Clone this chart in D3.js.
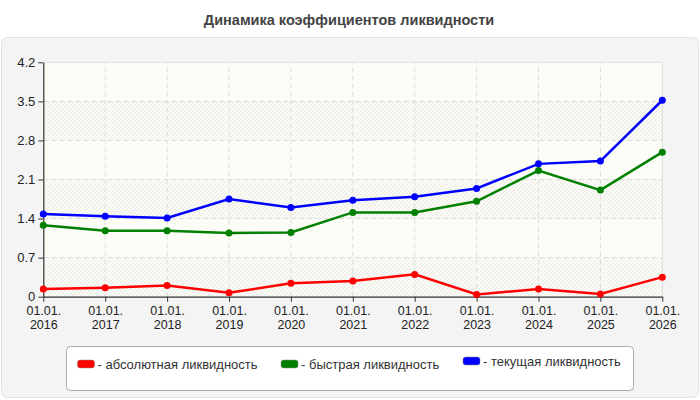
<!DOCTYPE html>
<html>
<head>
<meta charset="utf-8">
<script src="https://cdn.jsdelivr.net/npm/d3@7"></script>
<style>
  html, body { margin: 0; padding: 0; background: #fff; }
  svg { display: block; font-family: "Liberation Sans", Arial, sans-serif; }
</style>
</head>
<body>
<svg id="canvas" width="700" height="400"></svg>
<script>
var dates = ['2016', '2017', '2018', '2019', '2020', '2021', '2022', '2023', '2024', '2025', '2026'];
var absolute = [0.14, 0.16, 0.20, 0.07, 0.24, 0.28, 0.40, 0.04, 0.14, 0.05, 0.35];
var quick = [1.28, 1.18, 1.18, 1.14, 1.15, 1.51, 1.51, 1.71, 2.26, 1.91, 2.59];
var current = [1.48, 1.44, 1.41, 1.75, 1.60, 1.73, 1.79, 1.94, 2.38, 2.43, 3.52];
var yTicks = [0, 0.7, 1.4, 2.1, 2.8, 3.5, 4.2];
var seriesNames = ['- абсолютная ликвидность', '- быстрая ликвидность', '- текущая ликвидность'];
var seriesColors = ['#ff0000', '#008000', '#0000ff'];

var svg, x, y;

init();

function init() {
  svg = d3.select('svg#canvas');

  x = d3.scalePoint().domain(dates).range([43.3, 662.3]);
  y = d3.scaleLinear().domain([0, 4.2]).range([296.7, 62.3]);

  drawFrame();
  drawPlotBackground();
  drawAxes();
  drawSeries([absolute, quick, current]);
  drawLegend();
}

function drawFrame() {
  svg.append('rect')
    .attr('x', 1.5).attr('y', 37.5)
    .attr('width', 697).attr('height', 360)
    .attr('rx', 6)
    .attr('fill', '#f4f4f4')
    .attr('stroke', '#e2e2e2');

  svg.append('text')
    .attr('x', 349).attr('y', 25)
    .attr('text-anchor', 'middle')
    .attr('font-size', 14.5)
    .attr('font-weight', 'bold')
    .attr('fill', '#444')
    .text('Динамика коэффициентов ликвидности');
}

function drawPlotBackground() {
  var defs = svg.append('defs');
  var pat = defs.append('pattern')
    .attr('id', 'hatch')
    .attr('patternUnits', 'userSpaceOnUse')
    .attr('width', 4).attr('height', 4);
  pat.append('rect').attr('width', 4).attr('height', 4).attr('fill', '#fbfbf6');
  pat.append('path')
    .attr('d', 'M-1,1 l2,-2 M0,4 l4,-4 M3,5 l2,-2')
    .attr('stroke', '#e9e9e6')
    .attr('stroke-width', 1);

  var x0 = x(dates[0]), x1 = x(dates[dates.length - 1]);
  var bands = d3.pairs(yTicks);

  svg.append('g').selectAll('rect')
    .data(bands)
    .join('rect')
    .attr('x', x0)
    .attr('y', function(d) { return y(d[1]); })
    .attr('width', x1 - x0)
    .attr('height', function(d) { return y(d[0]) - y(d[1]); })
    .attr('fill', function(d, i) { return i % 2 === 0 ? 'url(#hatch)' : '#fdfdf7'; });

  // grid
  var grid = svg.append('g').attr('stroke', '#dcdcdc').attr('stroke-dasharray', '5,3');
  grid.selectAll('.h')
    .data(yTicks.slice(1, -1))
    .join('line')
    .attr('x1', x0).attr('x2', x1)
    .attr('y1', function(d) { return y(d); })
    .attr('y2', function(d) { return y(d); });
  grid.selectAll('.v')
    .data(dates.slice(1, -1))
    .join('line')
    .attr('y1', y(0)).attr('y2', y(4.2))
    .attr('x1', function(d) { return x(d); })
    .attr('x2', function(d) { return x(d); });

  svg.append('path')
    .attr('d', 'M' + x0 + ',' + y(4.2) + 'H' + x1 + 'V' + y(0))
    .attr('fill', 'none')
    .attr('stroke', '#dcdcdc');
}

function drawAxes() {
  var yAxis = svg.append('g')
    .attr('transform', 'translate(' + x(dates[0]) + ',0)')
    .call(d3.axisLeft(y).tickValues(yTicks).tickSize(5).tickSizeOuter(0)
      .tickFormat(function(d) { return d; }));
  yAxis.selectAll('text').attr('font-size', 13).attr('fill', '#222').attr('font-family', null);
  yAxis.selectAll('line, path').attr('stroke', '#333');

  var xAxis = svg.append('g')
    .attr('transform', 'translate(0,' + y(0) + ')')
    .call(d3.axisBottom(x).tickSize(5).tickSizeOuter(0).tickFormat(''));
  xAxis.selectAll('line, path').attr('stroke', '#333');

  // two-line labels as separate texts
  var ticks = xAxis.selectAll('.tick');
  ticks.append('text')
    .attr('fill', '#222').attr('font-size', 12.5).attr('text-anchor', 'middle')
    .attr('y', 18.3)
    .text('01.01.');
  ticks.append('text')
    .attr('fill', '#222').attr('font-size', 12.5).attr('text-anchor', 'middle')
    .attr('y', 32.8)
    .text(function(d) { return d; });
  svg.selectAll('.domain').attr('stroke-width', 1.2);
}

function drawSeries(all) {
  var line = d3.line()
    .x(function(d, i) { return x(dates[i]); })
    .y(function(d) { return y(d); });

  all.forEach(function(values, k) {
    var g = svg.append('g');
    g.append('path')
      .datum(values)
      .attr('d', line)
      .attr('fill', 'none')
      .attr('stroke', seriesColors[k])
      .attr('stroke-width', 2.5);
    g.selectAll('circle')
      .data(values)
      .join('circle')
      .attr('cx', function(d, i) { return x(dates[i]); })
      .attr('cy', function(d) { return y(d); })
      .attr('r', 3.5)
      .attr('fill', seriesColors[k]);
  });
}

function drawLegend() {
  svg.append('rect')
    .attr('x', 66.5).attr('y', 346.5)
    .attr('width', 567).attr('height', 44)
    .attr('rx', 4)
    .attr('fill', '#ffffff')
    .attr('stroke', '#aaaaaa');

  var itemX = [77.5, 281, 463];
  var itemY = [360, 360, 357];
  var items = svg.append('g').selectAll('g')
    .data(seriesNames)
    .join('g')
    .attr('transform', function(d, i) { return 'translate(' + itemX[i] + ',' + itemY[i] + ')'; });
  items.append('rect')
    .attr('width', 17).attr('height', 8)
    .attr('rx', 2.5)
    .attr('fill', function(d, i) { return seriesColors[i]; })
    .attr('stroke', '#888')
    .attr('stroke-width', 0.5);
  items.append('text')
    .attr('x', 20).attr('y', 9)
    .attr('font-size', 13)
    .attr('fill', '#333')
    .text(function(d) { return d; });
}
</script>
</body>
</html>
